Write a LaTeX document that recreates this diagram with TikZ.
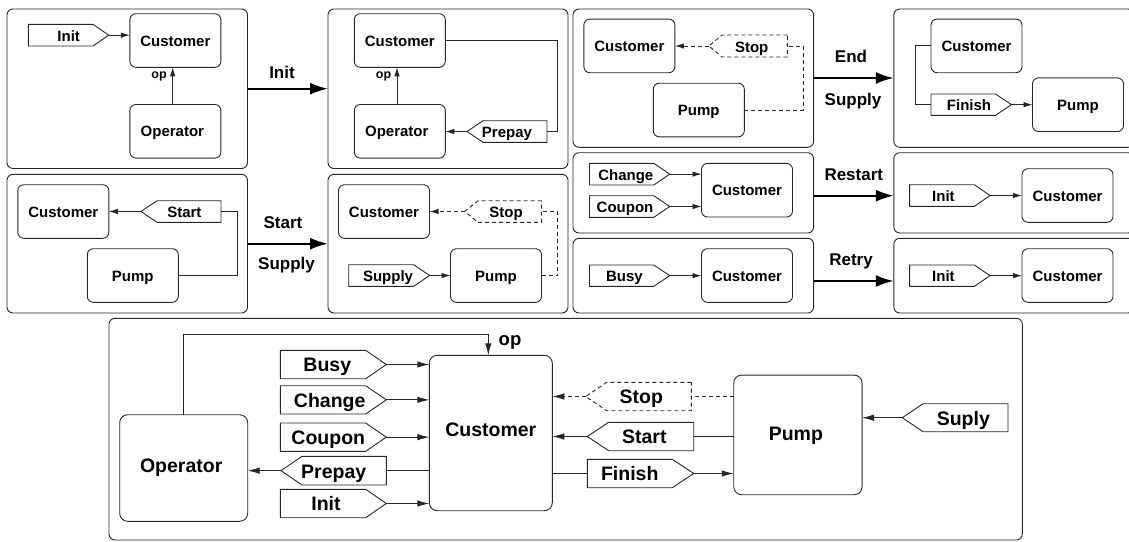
\documentclass[tikz,border=0pt]{standalone}
\usepackage{fontspec}
\setmainfont{Liberation Sans}
\usetikzlibrary{arrows.meta,calc}
\tikzset{
  x=1pt,y=-1pt,
  panel/.style={draw=black!85,line width=.9pt,rounded corners=6pt,inner sep=0pt,outer sep=0pt},
  fbox/.style={draw=black!85,line width=.9pt,rounded corners=6pt,inner sep=0pt,outer sep=0pt,font=\fontsize{15}{18}\bfseries\selectfont,minimum width=91pt,minimum height=53.6pt,text height=11pt,text depth=0pt},
  bigbox/.style={draw=black!85,line width=.9pt,rounded corners=8pt,inner sep=0pt,outer sep=0pt,font=\fontsize{19.5}{24}\bfseries\selectfont,text height=14.5pt},
  tagline/.style={draw=black!85,line width=.9pt},
  tagtext/.style={inner sep=0pt,anchor=base,font=\fontsize{15}{18}\bfseries\selectfont},
  oplab/.style={inner sep=0pt,anchor=base,font=\fontsize{12.5}{15}\bfseries\selectfont},
  bigop/.style={inner sep=0pt,anchor=base,font=\fontsize{18.5}{22}\bfseries\selectfont},
  translab/.style={inner sep=0pt,anchor=base,font=\fontsize{17}{20}\bfseries\selectfont},
  conn/.style={draw=black!85,line width=.9pt},
  arr/.style={conn,-{Latex[length=9pt,width=5.5pt]}},
  bigarr/.style={conn,-{Latex[length=12pt,width=6.5pt]}},
  dashy/.style={dash pattern=on 4pt off 3pt},
  thickarr/.style={draw=black,line width=2.2pt,-{Latex[length=18pt,width=12pt]}},
}
\newcommand{\tagdrop}{6}
% [line options]{name}{x back}{x shoulder}{x tip}{y top}{y bottom}{x text}{text}
\newcommand{\ftag}[9][]{%
  \pgfmathsetmacro{\ymid}{(#6+#7)/2}
  \draw[tagline,#1] (#3,#6) -- (#4,#6) -- (#5,\ymid) -- (#4,#7) -- (#3,#7) -- cycle;
  \coordinate (#2-back) at (#3,\ymid);
  \coordinate (#2-tip) at (#5,\ymid);
  \node[tagtext] (#2) at (#8,{\ymid+\tagdrop}) {#9};
}
\newcommand{\fpanel}[5]{%
  \pgfmathsetmacro{\pw}{#4-#2}\pgfmathsetmacro{\ph}{#5-#3}
  \node[panel,minimum width=\pw pt,minimum height=\ph pt] (#1) at ({(#2+#4)/2},{(#3+#5)/2}) {};
}
\begin{document}
\begin{tikzpicture}
\useasboundingbox (0,0) rectangle (1129,541);
% panels
\fpanel{p1}{7}{9}{247.5}{168.5}
\fpanel{p2}{328}{9}{568}{168.5}
\fpanel{p3}{7}{174.3}{247.5}{313}
\fpanel{p4}{328}{174.3}{568}{313}
\fpanel{p5}{573}{9}{813.6}{147.3}
\fpanel{p6}{893.8}{9}{1134}{147.3}
\fpanel{p7}{573}{152.7}{813.6}{233}
\fpanel{p8}{893.8}{152.7}{1134}{233}
\fpanel{p9}{573}{238.3}{813.6}{313}
\fpanel{p10}{893.8}{238.3}{1134}{313}
\fpanel{pbig}{109}{318.3}{1022.3}{540}
% transition arrows and labels
\coordinate (ya) at (0,88.7);
\coordinate (yb) at (0,243.7);
\coordinate (yc) at (0,78);
\coordinate (yd) at (0,195.7);
\coordinate (ye) at (0,281);
\draw[thickarr] (p1.east |- ya) -- (p2.west |- ya);
\draw[thickarr] (p3.east |- yb) -- (p4.west |- yb);
\draw[thickarr] (p5.east |- yc) -- (p6.west |- yc);
\draw[thickarr] (p7.east |- yd) -- (p8.west |- yd);
\draw[thickarr] (p9.east |- ye) -- (p10.west |- ye);
\node[translab] (l1) at (282,78) {Init};
\node[translab] (l2) at (283,228.3) {Start};
\node[translab] (l3) at (286.5,269.3) {Supply};
\node[translab] (l4) at (851,62) {End};
\node[translab] (l5) at (853,105) {Supply};
\node[translab] (l6) at (853.8,180.3) {Restart};
\node[translab] (l7) at (851,265.7) {Retry};
% panel 1
\node[fbox] (c1) at (175.4,40.5) {Customer};
\node[fbox] (o1) at (175.4,131.3) {Operator\kern6pt};
\ftag{t1}{28.4}{93}{108.7}{24.3}{46}{68.7}{Init}
\draw[arr] (t1-tip) -- (t1-tip -| c1.west);
\coordinate (opx1) at (172.7,0);
\draw[arr] (opx1 |- o1.north) -- (opx1 |- c1.south);
\node[oplab] (op1) at (159,78) {op};
% panel 2
\node[fbox] (c2) at (399.8,40.5) {Customer};
\node[fbox] (o2) at (399.8,131.3) {Operator\kern6pt};
\coordinate (opx2) at (397,0);
\draw[arr] (opx2 |- o2.north) -- (opx2 |- c2.south);
\node[oplab] (op2) at (383.6,78) {op};
\ftag{t2}{547}{483}{467}{120.7}{142.3}{507}{Prepay}
\draw[arr] (t2-tip) -- (t2-tip -| o2.east);
\coordinate (r2) at (557.5,0);
\draw[conn] (c2.east) -| (r2 |- t2-back) -- (t2-back);
% panel 3
\node[fbox] (c3) at (63.3,211.5) {Customer};
\node[fbox] (u3) at (132.8,275.5) {Pump};
\ftag{t3}{221}{157}{141}{200.7}{222.3}{184.4}{Start}
\draw[arr] (t3-tip) -- (t3-tip -| c3.east);
\coordinate (r3) at (237,0);
\draw[conn] (u3.east) -| (r3 |- t3-back) -- (t3-back);
% panel 4
\node[fbox] (c4) at (384,211.5) {Customer};
\node[fbox] (u4) at (496,275.5) {Pump};
\ftag[dashy]{t4}{541.5}{478}{464.7}{200.7}{222.3}{506}{Stop}
\draw[arr,dashy] (t4-tip) -- (t4-tip -| c4.east);
\coordinate (r4) at (557.5,0);
\draw[conn,dashy] (u4.east) -| (r4 |- t4-back) -- (t4-back);
\ftag{t4b}{348.7}{413.8}{429.5}{264.7}{286.3}{388}{Supply}
\draw[arr] (t4b-tip) -- (t4b-tip -| u4.west);
% panel 5
\node[fbox] (c5) at (629.4,45.9) {Customer};
\node[fbox] (u5) at (698.8,110) {Pump};
\ftag[dashy]{t5}{787.3}{722}{708.9}{35}{57}{751.7}{Stop}
\draw[arr,dashy] (t5-tip) -- (t5-tip -| c5.east);
\coordinate (r5) at (803,0);
\draw[conn,dashy] (u5.east) -| (r5 |- t5-back) -- (t5-back);
% panel 6
\node[fbox] (c6) at (976.5,45.9) {Customer};
\node[fbox] (u6) at (1078,104.7) {Pump};
\ftag{t6}{931}{995.6}{1011.4}{94}{115.3}{969}{Finish}
\draw[arr] (t6-tip) -- (t6-tip -| u6.west);
\coordinate (r6) at (915.4,0);
\draw[conn] (c6.west) -| (r6 |- t6-back) -- (t6-back);
% panel 7
\node[fbox] (c7) at (747,190.2) {Customer};
\ftag{t7a}{589.5}{653.8}{669.7}{163.3}{185}{625.8}{Change}
\ftag{t7b}{589.5}{653.8}{669.7}{195.7}{217.3}{625}{Coupon}
\draw[arr] (t7a-tip) -- (t7a-tip -| c7.west);
\draw[arr] (t7b-tip) -- (t7b-tip -| c7.west);
% panel 8
\node[fbox] (c8) at (1067.5,195.5) {Customer};
\ftag{t8}{909.6}{974.4}{990}{184.7}{206.3}{943.4}{Init}
\draw[arr] (t8-tip) -- (t8-tip -| c8.west);
% panel 9
\node[fbox] (c9) at (747,275.5) {Customer};
\ftag{t9}{589.5}{653.8}{669.7}{265}{286.3}{624.4}{Busy}
\draw[arr] (t9-tip) -- (t9-tip -| c9.west);
% panel 10
\node[fbox] (c10) at (1067.5,275.5) {Customer};
\ftag{t10}{909.6}{974.4}{990}{265}{286.3}{943.4}{Init}
\draw[arr] (t10-tip) -- (t10-tip -| c10.west);
% large diagram
\begin{scope}[tagtext/.style={inner sep=0pt,anchor=base,font=\fontsize{19.5}{24}\bfseries\selectfont}]
\renewcommand{\tagdrop}{7.4}
\node[bigbox,minimum width=128pt,minimum height=106.6pt,text depth=5.1pt] (bo) at (183.7,468) {Operator\kern5pt};
\node[bigbox,minimum width=123pt,minimum height=155.4pt,text depth=8.5pt] (bc) at (490.8,433) {Customer};
\node[bigbox,minimum width=128.3pt,minimum height=119.7pt,text depth=3.7pt] (bu) at (797.9,434.9) {Pump\kern4pt};
\coordinate (opx) at (488.3,0);
\coordinate (opy) at (0,334.3);
\coordinate (opb) at (183.3,0);
\draw[bigarr] (opb |- bo.north) -- (opb |- opy) -- (opx |- opy) -- (opx |- bc.north);
\node[bigop] (bop) at (510,345) {op};
\ftag{b1}{280.3}{365.7}{386.3}{350.3}{378.7}{327.3}{Busy}
\ftag{b2}{280.3}{365.7}{386.3}{385.7}{414}{329.7}{Change}
\ftag{b3}{280.3}{365.7}{386.3}{423}{451.3}{328.3}{Coupon}
\ftag{b4}{386.3}{302}{281}{456.3}{485}{333.7}{Prepay}
\ftag{b5}{280.3}{365.7}{386.3}{489.3}{517.7}{326}{Init}
\draw[bigarr] (b1-tip) -- (b1-tip -| bc.west);
\draw[bigarr] (b2-tip) -- (b2-tip -| bc.west);
\draw[bigarr] (b3-tip) -- (b3-tip -| bc.west);
\draw[bigarr] (b5-tip) -- (b5-tip -| bc.west);
\draw[conn] (b4-back -| bc.west) -- (b4-back);
\draw[bigarr] (b4-tip) -- (b4-tip -| bo.east);
\ftag[dashy]{b6}{691.3}{606.7}{585.7}{382.3}{410.7}{641.3}{Stop}
\ftag{b7}{693.7}{608.7}{587.3}{422.3}{450.7}{644.3}{Start}
\ftag{b8}{587.3}{672.3}{693.7}{459.3}{487.7}{629.7}{Finish}
\ftag{b9}{1008}{923}{902.3}{403.7}{431.7}{963.3}{Suply}
\draw[conn,dashy] (b6-back -| bu.west) -- (b6-back);
\draw[bigarr,dashy] (b6-tip) -- (b6-tip -| bc.east);
\draw[conn] (b7-back -| bu.west) -- (b7-back);
\draw[bigarr] (b7-tip) -- (b7-tip -| bc.east);
\draw[conn] (b8-back -| bc.east) -- (b8-back);
\draw[bigarr] (b8-tip) -- (b8-tip -| bu.west);
\draw[bigarr] (b9-tip) -- (b9-tip -| bu.east);
\end{scope}
\end{tikzpicture}
\end{document}
